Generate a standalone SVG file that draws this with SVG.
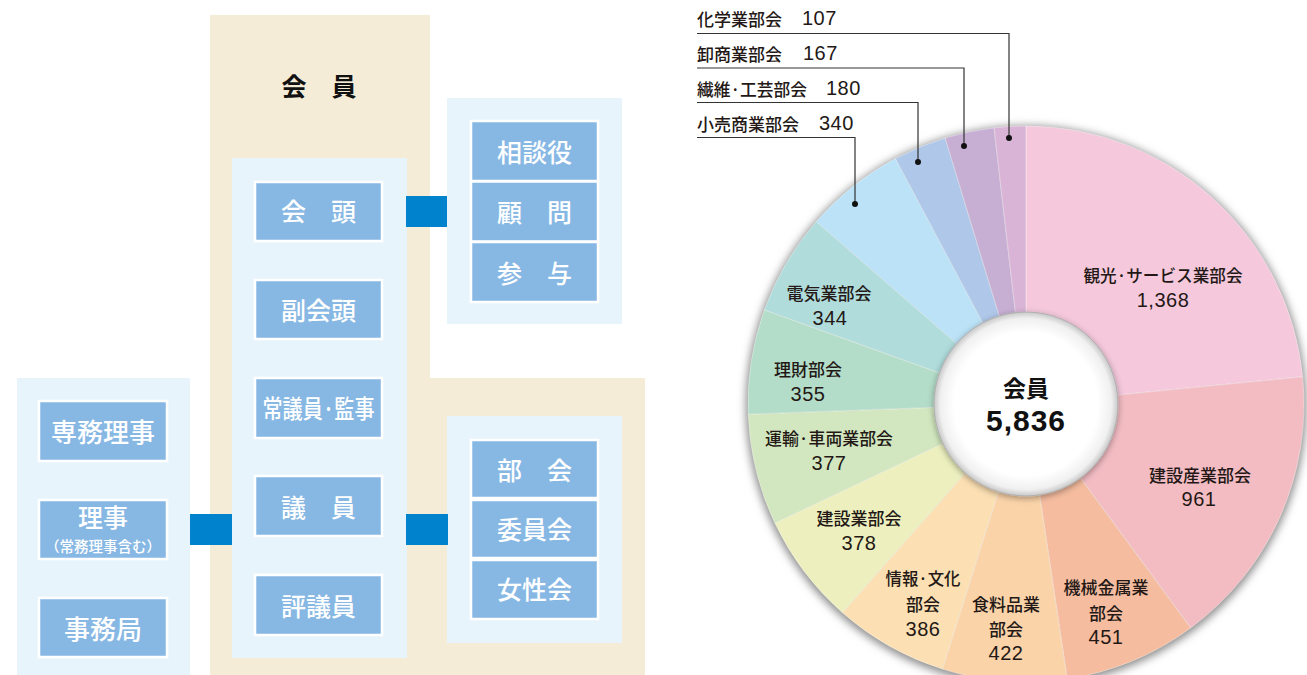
<svg xmlns="http://www.w3.org/2000/svg" width="1307" height="675" viewBox="0 0 1307 675">
<defs>
<style>
.bg{fill:#F5ECD8}
.pane{fill:#E8F4FC}
.box{fill:#87B8E4;stroke:#fff;stroke-width:2.5}
.bt{font-family:"Noto Sans CJK JP","Noto Sans CJK SC",sans-serif;font-weight:500;font-size:25px;fill:#fff;text-anchor:middle;dominant-baseline:central}
.conn{fill:#0082CC}
.lbl{font-family:"Noto Sans CJK JP","Noto Sans CJK SC",sans-serif;font-weight:500;font-size:17px;fill:#231815;text-anchor:middle;dominant-baseline:central}
.lbll{font-family:"Noto Sans CJK JP","Noto Sans CJK SC",sans-serif;font-weight:500;font-size:17px;fill:#231815;dominant-baseline:central}
.num{font-family:"Liberation Sans",Arial,sans-serif;font-size:20px;fill:#231815;text-anchor:middle;dominant-baseline:central;letter-spacing:0.5px}
.numl{font-family:"Liberation Sans",Arial,sans-serif;font-size:20px;fill:#231815;dominant-baseline:central;letter-spacing:0.5px}
.lead{fill:none;stroke:#333;stroke-width:1.2}
.dot{fill:#111}
.sl{stroke:#fff;stroke-width:0.6;stroke-opacity:0.6}
</style>
<filter id="blur" x="-10%" y="-10%" width="120%" height="120%"><feGaussianBlur stdDeviation="4"/></filter>
<filter id="ishadow" x="-20%" y="-20%" width="140%" height="140%"><feDropShadow dx="0" dy="2" stdDeviation="3" flood-color="#000" flood-opacity="0.35"/></filter>
<radialGradient id="ig" cx="50%" cy="50%" r="50%">
<stop offset="0.78" stop-color="#ffffff"/>
<stop offset="0.93" stop-color="#f0f0f0"/>
<stop offset="1" stop-color="#c8c8c8"/>
</radialGradient>
</defs>

<g id="org-background">
<path class="bg" d="M210,15 H430 V378 H645 V675 H210 Z"/>
<text x="319" y="85" style="font-family:'Noto Sans CJK JP',sans-serif;font-weight:700;font-size:25px;fill:#111;text-anchor:middle;dominant-baseline:central">会　員</text>
</g>

<g id="panes">
<rect class="pane" x="232" y="158" width="175" height="500"/>
<rect class="pane" x="447" y="98" width="175" height="226"/>
<rect class="pane" x="447" y="416" width="175" height="227"/>
<rect class="pane" x="17" y="378" width="173" height="297"/>
</g>

<g id="connectors">
<rect class="conn" x="406" y="196" width="41" height="31"/>
<rect class="conn" x="406" y="514" width="42" height="31"/>
<rect class="conn" x="190" y="514" width="42" height="31"/>
</g>

<g id="node-kaito"><rect class="box" x="255" y="182" width="127" height="59"/><text class="bt" x="318.5" y="210">会　頭</text></g>
<g id="node-fukukaito"><rect class="box" x="255" y="280" width="127" height="59"/><text class="bt" x="318.5" y="309">副会頭</text></g>
<g id="node-jogiin"><rect class="box" x="255" y="378" width="127" height="60"/><text class="bt" x="318.5" y="407" textLength="112" lengthAdjust="spacingAndGlyphs">常議員·監事</text></g>
<g id="node-giin"><rect class="box" x="255" y="476" width="127" height="60"/><text class="bt" x="318.5" y="506">議　員</text></g>
<g id="node-hyogiin"><rect class="box" x="255" y="575" width="127" height="60"/><text class="bt" x="318.5" y="605">評議員</text></g>

<g id="node-sodanyaku"><rect class="box" x="471" y="121" width="127" height="60"/><text class="bt" x="534.5" y="151">相談役</text></g>
<g id="node-komon"><rect class="box" x="471" y="181.5" width="127" height="60"/><text class="bt" x="534.5" y="211">顧　問</text></g>
<g id="node-sanyo"><rect class="box" x="471" y="242" width="127" height="60"/><text class="bt" x="534.5" y="272">参　与</text></g>

<g id="node-bukai"><rect class="box" x="471" y="440" width="127" height="58"/><text class="bt" x="534.5" y="469">部　会</text></g>
<g id="node-iinkai"><rect class="box" x="471" y="500" width="127" height="58"/><text class="bt" x="534.5" y="528">委員会</text></g>
<g id="node-joseikai"><rect class="box" x="471" y="560" width="127" height="59"/><text class="bt" x="534.5" y="588">女性会</text></g>

<g id="node-senmu"><rect class="box" x="39" y="401" width="128" height="60"/><text class="bt" x="103" y="430" style="font-size:26px">専務理事</text></g>
<g id="node-riji"><rect class="box" x="39" y="500" width="128" height="59"/><text class="bt" x="103" y="516" style="font-size:25px">理事</text><text class="bt" x="103" y="545" style="font-size:14.5px">（常務理事含む）</text></g>
<g id="node-jimukyoku"><rect class="box" x="39" y="598" width="128" height="59"/><text class="bt" x="103" y="627" style="font-size:26px">事務局</text></g>

<g id="pie">
<circle cx="1026" cy="406" r="280" fill="#8a8a8a" filter="url(#blur)"/>
<path id="s-kanko" class="sl" fill="#F5C8DC" d="M1026,404 L1026,126 A278,278 0 0 1 1302.67,376.81 Z"/>
<path id="s-kensetsusangyo" class="sl" fill="#F3BCC3" d="M1026,404 L1302.67,376.81 A278,278 0 0 1 1190.72,627.95 Z"/>
<path id="s-kikai" class="sl" fill="#F5BC9F" d="M1026,404 L1190.72,627.95 A278,278 0 0 1 1067.15,678.94 Z"/>
<path id="s-shokuryo" class="sl" fill="#FAD3A9" d="M1026,404 L1067.15,678.94 A278,278 0 0 1 942.32,669.11 Z"/>
<path id="s-joho" class="sl" fill="#FCE0B3" d="M1026,404 L942.32,669.11 A278,278 0 0 1 842.39,612.73 Z"/>
<path id="s-kensetsu" class="sl" fill="#EDF0BE" d="M1026,404 L842.39,612.73 A278,278 0 0 1 774.78,523.04 Z"/>
<path id="s-unyu" class="sl" fill="#D2E7BF" d="M1026,404 L774.78,523.04 A278,278 0 0 1 748.19,414.17 Z"/>
<path id="s-rizai" class="sl" fill="#B3DDC8" d="M1026,404 L748.19,414.17 A278,278 0 0 1 764.43,309.83 Z"/>
<path id="s-denki" class="sl" fill="#B0DCDC" d="M1026,404 L764.43,309.83 A278,278 0 0 1 816.28,221.52 Z"/>
<path id="s-kouri" class="sl" fill="#BBE2F6" d="M1026,404 L816.28,221.52 A278,278 0 0 1 895.47,158.55 Z"/>
<path id="s-seni" class="sl" fill="#AFC7E8" d="M1026,404 L895.47,158.55 A278,278 0 0 1 945.18,138.01 Z"/>
<path id="s-oroshi" class="sl" fill="#C7AED3" d="M1026,404 L945.18,138.01 A278,278 0 0 1 994.05,127.84 Z"/>
<path id="s-kagaku" class="sl" fill="#DAB4D6" d="M1026,404 L994.05,127.84 A278,278 0 0 1 1026,126 Z"/>
</g>

<g id="center">
<circle cx="1026" cy="404" r="92" fill="url(#ig)" stroke="#b0b0b0" stroke-width="1" filter="url(#ishadow)"/>
<text x="1026" y="387" style="font-family:'Noto Sans CJK JP',sans-serif;font-weight:700;font-size:23px;fill:#111;text-anchor:middle;dominant-baseline:central">会員</text>
<text x="1026" y="420" style="font-family:'Liberation Sans',Arial,sans-serif;font-weight:700;font-size:30px;fill:#111;text-anchor:middle;dominant-baseline:central;letter-spacing:1px">5,836</text>
</g>

<g id="pie-labels">
<text class="lbl" x="1163" y="274" textLength="159" lengthAdjust="spacingAndGlyphs">観光·サービス業部会</text><text class="num" x="1163" y="300">1,368</text>
<text class="lbl" x="1200" y="474">建設産業部会</text><text class="num" x="1199" y="499">961</text>
<text class="lbl" x="1106" y="586">機械金属業</text><text class="lbl" x="1106" y="612">部会</text><text class="num" x="1106" y="637">451</text>
<text class="lbl" x="1006" y="603">食料品業</text><text class="lbl" x="1006" y="628">部会</text><text class="num" x="1006" y="653">422</text>
<text class="lbl" x="923" y="577" textLength="75" lengthAdjust="spacingAndGlyphs">情報·文化</text><text class="lbl" x="923" y="603">部会</text><text class="num" x="923" y="629">386</text>
<text class="lbl" x="859" y="517">建設業部会</text><text class="num" x="859" y="543">378</text>
<text class="lbl" x="829" y="437" textLength="128" lengthAdjust="spacingAndGlyphs">運輸·車両業部会</text><text class="num" x="829" y="463">377</text>
<text class="lbl" x="808" y="368">理財部会</text><text class="num" x="808" y="394">355</text>
<text class="lbl" x="829" y="292">電気業部会</text><text class="num" x="830" y="318">344</text>
</g>

<g id="leaders">
<path class="lead" d="M697,33.5 H1009 V138"/><circle class="dot" cx="1009" cy="138" r="3"/>
<path class="lead" d="M697,68 H964 V146"/><circle class="dot" cx="964" cy="146" r="3"/>
<path class="lead" d="M697,102.5 H918 V162"/><circle class="dot" cx="918" cy="162" r="3"/>
<path class="lead" d="M697,137.5 H855 V204"/><circle class="dot" cx="855" cy="204" r="3"/>
<text class="lbll" x="697" y="18">化学業部会</text><text class="numl" x="802" y="18">107</text>
<text class="lbll" x="697" y="53">卸商業部会</text><text class="numl" x="803" y="53">167</text>
<text class="lbll" x="697" y="88" textLength="110" lengthAdjust="spacingAndGlyphs">繊維·工芸部会</text><text class="numl" x="826" y="88">180</text>
<text class="lbll" x="697" y="123">小売商業部会</text><text class="numl" x="819" y="123">340</text>
</g>
</svg>
